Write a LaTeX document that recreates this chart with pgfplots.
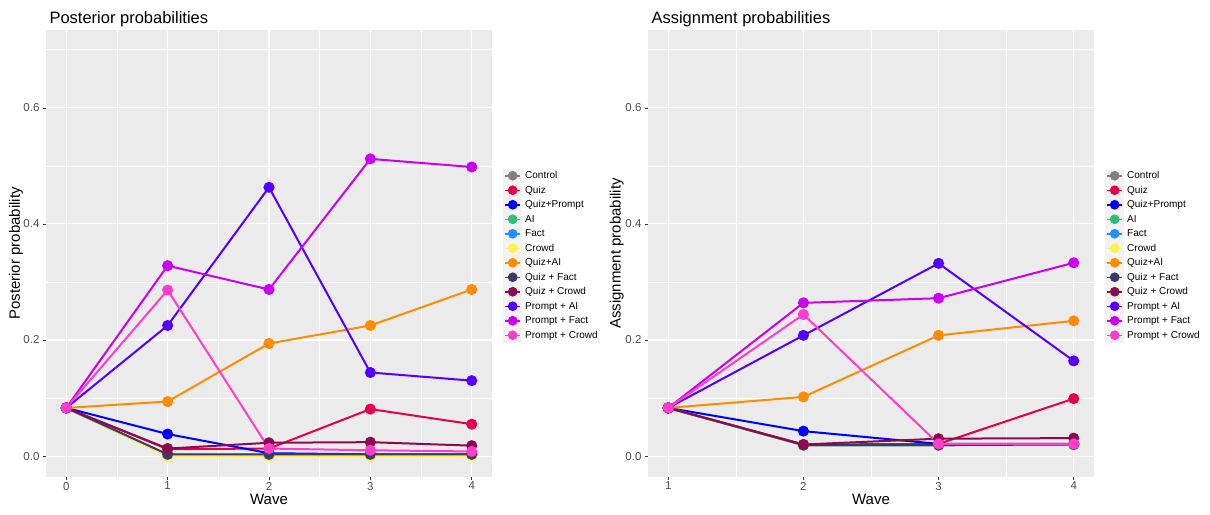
\documentclass[border=0pt]{standalone}
\usepackage{fontspec}
\setmainfont{Liberation Sans}
\usepackage{pgfplots}
\pgfplotsset{compat=1.18}
\definecolor{panel}{RGB}{235,235,235}
\definecolor{keybg}{RGB}{242,242,242}
\definecolor{cControl}{RGB}{128,128,128}
\definecolor{cQuiz}{RGB}{230,0,76}
\definecolor{cQuizPrompt}{RGB}{0,0,255}
\definecolor{cAI}{RGB}{46,189,122}
\definecolor{cFact}{RGB}{30,144,255}
\definecolor{cCrowd}{RGB}{255,240,80}
\definecolor{cQuizAI}{RGB}{255,140,0}
\definecolor{cQuizFact}{RGB}{58,58,100}
\definecolor{cQuizCrowd}{RGB}{139,10,80}
\definecolor{cPromptAI}{RGB}{85,0,255}
\definecolor{cPromptFact}{RGB}{204,0,240}
\definecolor{cPromptCrowd}{RGB}{255,60,205}
\pgfplotsset{
  ggstyle/.style={
    scale only axis, width=446pt, height=447pt,
    axis background/.style={fill=panel},
    axis line style={draw=none},
    grid=both,
    major grid style={white, line width=1.1pt},
    minor grid style={white, line width=0.55pt},
    tick align=outside, major tick length=3pt, minor tick length=0pt,
    tick style={color=black!80, line width=0.5pt},
    xtick pos=bottom, ytick pos=left,
    ymin=-0.036, ymax=0.734,
    ytick={0,0.2,0.4,0.6}, minor ytick={0.1,0.3,0.5,0.7},
    yticklabels={0.0,0.2,0.4,0.6},
    ticklabel style={font=\fontsize{11.5}{12}\selectfont, text=black!70},
    xticklabel style={yshift=1.5pt},
    /pgf/number format/assume math mode=true,
    xlabel style={font=\fontsize{15}{16}\selectfont, at={(axis description cs:0.5,-0.05)}, anchor=center},
    ylabel style={font=\fontsize{15}{16}\selectfont, anchor=center},
    title style={font=\fontsize{16.5}{18}\selectfont, at={(axis description cs:0,1)}, anchor=base west, yshift=0.5pt},
    legend style={at={(1,0.5)}, anchor=west, xshift=11pt, yshift=-2pt, draw=none, fill=none, inner sep=0pt,
      font=\fontsize{10}{10}\selectfont, row sep=0pt, column sep=3pt,
      nodes={inner sep=0pt, text height=9pt, text depth=3.5pt}},
    legend cell align=left,
    legend image code/.code={
      \fill[keybg] (-1pt,-6.25pt) rectangle (16pt,6.25pt);
      \draw[line width=1.5pt] (0pt,0pt) -- (15pt,0pt);
      \fill (7.5pt,0pt) circle (3.8pt);
    },
    every axis plot/.append style={line width=2pt, mark=*, mark size=4.5pt, mark options={solid}},
  }
}
\begin{document}
\begin{tikzpicture}
\path[use as bounding box] (0,0) rectangle (1210pt,514pt);
\begin{axis}[ggstyle, at={(46pt,37pt)}, anchor=south west,
  xmin=-0.2, xmax=4.2, xtick={0,1,2,3,4}, xticklabels={0,1,2,3,4},
  minor xtick={0.5,1.5,2.5,3.5},
  title={Posterior probabilities}, xlabel={Wave}, ylabel={Posterior probability},
  ylabel style={at={(axis description cs:-0.067,0.5)}}]
\addplot[color=cControl] coordinates {(0,0.083) (1,0.001) (2,0.001) (3,0.001) (4,0.001)};
\addlegendentry{Control}
\addplot[color=cQuiz] coordinates {(0,0.083) (1,0.012) (2,0.013) (3,0.081) (4,0.055)};
\addlegendentry{Quiz}
\addplot[color=cQuizPrompt] coordinates {(0,0.083) (1,0.038) (2,0.005) (3,0.003) (4,0.003)};
\addlegendentry{Quiz+Prompt}
\addplot[color=cAI] coordinates {(0,0.083) (1,0.002) (2,0.002) (3,0.002) (4,0.002)};
\addlegendentry{AI}
\addplot[color=cFact] coordinates {(0,0.083) (1,0.002) (2,0.002) (3,0.002) (4,0.002)};
\addlegendentry{Fact}
\addplot[color=cCrowd] coordinates {(0,0.083) (1,0.0) (2,0.0) (3,0.0) (4,0.0)};
\addlegendentry{Crowd}
\addplot[color=cQuizAI] coordinates {(0,0.083) (1,0.094) (2,0.194) (3,0.225) (4,0.287)};
\addlegendentry{Quiz+AI}
\addplot[color=cQuizFact] coordinates {(0,0.083) (1,0.003) (2,0.003) (3,0.003) (4,0.003)};
\addlegendentry{Quiz + Fact}
\addplot[color=cQuizCrowd] coordinates {(0,0.083) (1,0.013) (2,0.023) (3,0.024) (4,0.018)};
\addlegendentry{Quiz + Crowd}
\addplot[color=cPromptAI] coordinates {(0,0.083) (1,0.225) (2,0.463) (3,0.144) (4,0.130)};
\addlegendentry{Prompt + AI}
\addplot[color=cPromptFact] coordinates {(0,0.083) (1,0.328) (2,0.287) (3,0.512) (4,0.498)};
\addlegendentry{Prompt + Fact}
\addplot[color=cPromptCrowd] coordinates {(0,0.083) (1,0.286) (2,0.013) (3,0.010) (4,0.008)};
\addlegendentry{Prompt + Crowd}
\end{axis}
\begin{axis}[ggstyle, at={(648pt,37pt)}, anchor=south west,
  xmin=0.85, xmax=4.15, xtick={1,2,3,4}, xticklabels={1,2,3,4},
  minor xtick={1.5,2.5,3.5},
  title={Assignment probabilities}, xlabel={Wave}, ylabel={Assignment probability},
  ylabel style={at={(axis description cs:-0.07,0.5)}}]
\addplot[color=cControl] coordinates {(1,0.083) (2,0.019) (3,0.019) (4,0.020)};
\addlegendentry{Control}
\addplot[color=cQuiz] coordinates {(1,0.083) (2,0.020) (3,0.021) (4,0.099)};
\addlegendentry{Quiz}
\addplot[color=cQuizPrompt] coordinates {(1,0.083) (2,0.043) (3,0.021) (4,0.021)};
\addlegendentry{Quiz+Prompt}
\addplot[color=cAI] coordinates {(1,0.083) (2,0.019) (3,0.019) (4,0.020)};
\addlegendentry{AI}
\addplot[color=cFact] coordinates {(1,0.083) (2,0.019) (3,0.019) (4,0.020)};
\addlegendentry{Fact}
\addplot[color=cCrowd] coordinates {(1,0.083) (2,0.019) (3,0.019) (4,0.020)};
\addlegendentry{Crowd}
\addplot[color=cQuizAI] coordinates {(1,0.083) (2,0.102) (3,0.208) (4,0.233)};
\addlegendentry{Quiz+AI}
\addplot[color=cQuizFact] coordinates {(1,0.083) (2,0.019) (3,0.019) (4,0.020)};
\addlegendentry{Quiz + Fact}
\addplot[color=cQuizCrowd] coordinates {(1,0.083) (2,0.020) (3,0.030) (4,0.031)};
\addlegendentry{Quiz + Crowd}
\addplot[color=cPromptAI] coordinates {(1,0.083) (2,0.208) (3,0.332) (4,0.164)};
\addlegendentry{Prompt + AI}
\addplot[color=cPromptFact] coordinates {(1,0.083) (2,0.264) (3,0.272) (4,0.333)};
\addlegendentry{Prompt + Fact}
\addplot[color=cPromptCrowd] coordinates {(1,0.083) (2,0.244) (3,0.021) (4,0.021)};
\addlegendentry{Prompt + Crowd}
\end{axis}
\end{tikzpicture}
\end{document}
